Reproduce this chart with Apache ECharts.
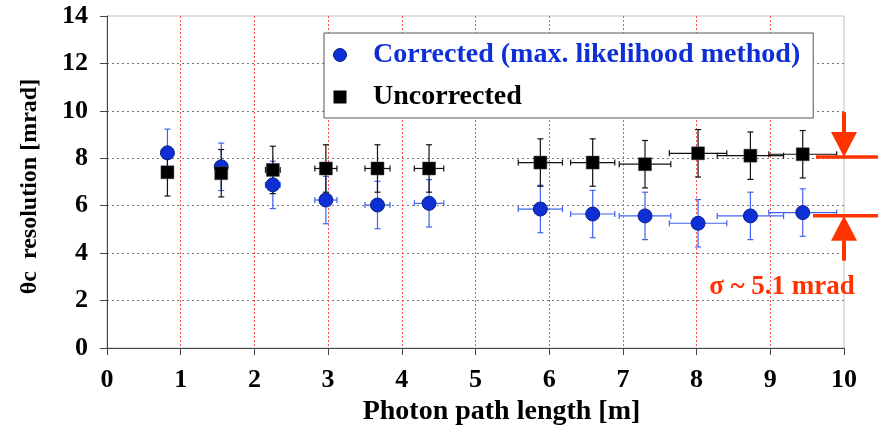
<!DOCTYPE html>
<html><head><meta charset="utf-8">
<script src="https://cdn.jsdelivr.net/npm/echarts@6/dist/echarts.min.js"></script>
<style>html,body{margin:0;padding:0;background:#fff}#c{width:878px;height:428px}</style>
</head><body><div id="c"></div>
<script>
const pathLength = [0.82, 1.55, 2.25, 2.97, 3.67, 4.37, 5.88, 6.59, 7.30, 8.02, 8.73, 9.44];
const pathErr = [0.05, 0.05, 0.10, 0.15, 0.17, 0.20, 0.30, 0.30, 0.35, 0.39, 0.45, 0.46];
const corrected = [8.23, 7.64, 6.88, 6.24, 6.03, 6.10, 5.86, 5.65, 5.57, 5.26, 5.57, 5.71];
const correctedErr = [1.0, 1.0, 1.0, 1.0, 1.0, 1.0, 1.0, 1.0, 1.0, 1.0, 1.0, 1.0];
const uncorrected = [7.41, 7.37, 7.51, 7.57, 7.57, 7.57, 7.82, 7.82, 7.75, 8.21, 8.11, 8.17];
const uncorrectedErr = [1.0, 1.0, 1.0, 1.0, 1.0, 1.0, 1.0, 1.0, 1.0, 1.0, 1.0, 1.0];
const sigmaLevels = [8.05, 5.58];
const sigmaText = 'σ ~ 5.1 mrad';
const nameCorrected = 'Corrected (max. likelihood method)';
const nameUncorrected = 'Uncorrected';

const FONT = '"Liberation Serif", "DejaVu Serif", serif';
const BLUE = '#0f2fd6';
const BLUE_BAR = '#3f63ee';
const RED = '#ff3300';

function errData(ys, yerr) {
  return pathLength.map((x, i) => [x, ys[i], pathErr[i], yerr[i]]);
}
function errRender(color) {
  return function (params, api) {
    const x = api.value(0), y = api.value(1), xe = api.value(2), ye = api.value(3);
    const c = api.coord([x, y]);
    const top = api.coord([x, y + ye]), bot = api.coord([x, y - ye]);
    const l = api.coord([x - xe, y]), r = api.coord([x + xe, y]);
    const cap = 3;
    const st = { stroke: color, lineWidth: 1.2 };
    const ch = [
      { type: 'line', shape: { x1: c[0], y1: top[1], x2: c[0], y2: bot[1] }, style: st },
      { type: 'line', shape: { x1: c[0] - cap, y1: top[1], x2: c[0] + cap, y2: top[1] }, style: st },
      { type: 'line', shape: { x1: c[0] - cap, y1: bot[1], x2: c[0] + cap, y2: bot[1] }, style: st }
    ];
    if (xe > 0) {
      ch.push({ type: 'line', shape: { x1: l[0], y1: c[1], x2: r[0], y2: c[1] }, style: st });
      ch.push({ type: 'line', shape: { x1: l[0], y1: c[1] - cap, x2: l[0], y2: c[1] + cap }, style: st });
      ch.push({ type: 'line', shape: { x1: r[0], y1: c[1] - cap, x2: r[0], y2: c[1] + cap }, style: st });
    }
    return { type: 'group', children: ch };
  };
}

const chart = echarts.init(document.getElementById('c'), null, { renderer: 'canvas' });
const option = {
  animation: false,
  grid: { left: 107, right: 34, top: 16, bottom: 80, containLabel: false, outerBoundsMode: 'none',
    show: true, borderColor: '#bdbdbd', borderWidth: 1 },
  legend: {
    orient: 'vertical', left: 324, top: 33,
    backgroundColor: '#fff', borderColor: '#555', borderWidth: 1,
    padding: [8, 13, 7, 9], itemGap: 14, itemWidth: 30, itemHeight: 13,
    symbolKeepAspect: true,
    textStyle: { fontFamily: FONT, fontWeight: 'bold', fontSize: 28, color: '#000', padding: [0, 0, 0, 13] },
    data: [
      { name: nameCorrected, icon: 'circle', itemStyle: { color: BLUE, borderColor: '#0a1f80', borderWidth: 1 }, textStyle: { color: BLUE } },
      { name: nameUncorrected, icon: 'path://M0,0L10,0L10,10L0,10Z', itemStyle: { color: '#000', borderWidth: 0 }, textStyle: { color: '#000' } }
    ]
  },
  xAxis: {
    type: 'value', min: 0, max: 10, interval: 1,
    name: 'Photon path length [m]', nameLocation: 'middle', nameGap: 48,
    nameTextStyle: { fontFamily: FONT, fontWeight: 'bold', fontSize: 28, color: '#000', padding: [0, 0, 0, 52] },
    axisLine: { lineStyle: { color: '#444', width: 1 } },
    axisTick: { show: true, length: 7, lineStyle: { color: '#444' } },
    axisLabel: { fontFamily: FONT, fontWeight: 'bold', fontSize: 26, color: '#000', margin: 19 },
    splitLine: { show: true, showMinLine: false, showMaxLine: false, lineStyle: { color: '#ff5050', type: [2, 2], width: 1 } }
  },
  yAxis: {
    type: 'value', min: 0, max: 14, interval: 2,
    name: 'θc  resolution [mrad]', nameLocation: 'middle', nameGap: 65, nameRotate: 90,
    nameTextStyle: { fontFamily: FONT, fontWeight: 'bold', fontSize: 24, color: '#000', padding: [0, 9, 0, 0] },
    axisLine: { show: true, lineStyle: { color: '#444', width: 1 } },
    axisTick: { show: true, length: 7, lineStyle: { color: '#444' } },
    axisLabel: { fontFamily: FONT, fontWeight: 'bold', fontSize: 26, color: '#000', margin: 19 },
    splitLine: { show: true, showMinLine: false, showMaxLine: false, lineStyle: { color: '#777', type: [2, 3], width: 1 } }
  },
  series: [
    { type: 'custom', name: 'errC', renderItem: errRender(BLUE_BAR), data: errData(corrected, correctedErr), z: 2, silent: true },
    { type: 'custom', name: 'errU', renderItem: errRender('#111'), data: errData(uncorrected, uncorrectedErr), z: 2, silent: true },
    { type: 'scatter', name: nameCorrected, symbol: 'circle', symbolSize: 14, z: 3,
      itemStyle: { color: BLUE, borderColor: '#0a1f80', borderWidth: 1, opacity: 1 },
      data: pathLength.map((x, i) => [x, corrected[i]]) },
    { type: 'scatter', name: nameUncorrected, symbol: 'rect', symbolSize: 13, z: 4,
      itemStyle: { color: '#000', borderColor: '#444', borderWidth: 0.5, opacity: 1 },
      data: pathLength.map((x, i) => [x, uncorrected[i]]) }
  ]
};
chart.setOption(option);

// sigma annotation
const yTop = chart.convertToPixel({ gridIndex: 0 }, [10, sigmaLevels[0]]);
const yBot = chart.convertToPixel({ gridIndex: 0 }, [10, sigmaLevels[1]]);
const xL = chart.convertToPixel({ gridIndex: 0 }, [9.62, 0])[0];
const ax = yTop[0];
const tri = 13, triH = 25, stem = 20;
chart.setOption({
  graphic: [
    { type: 'line', shape: { x1: xL, y1: yTop[1], x2: 878, y2: yTop[1] }, style: { stroke: RED, lineWidth: 3.5 }, z: 10 },
    { type: 'line', shape: { x1: xL - 3, y1: yBot[1], x2: 878, y2: yBot[1] }, style: { stroke: RED, lineWidth: 3.5 }, z: 10 },
    { type: 'line', shape: { x1: ax, y1: yTop[1] - triH - stem, x2: ax, y2: yTop[1] - triH }, style: { stroke: RED, lineWidth: 4 }, z: 10 },
    { type: 'polygon', shape: { points: [[ax - tri, yTop[1] - triH], [ax + tri, yTop[1] - triH], [ax, yTop[1]]] }, style: { fill: RED }, z: 10 },
    { type: 'polygon', shape: { points: [[ax - tri, yBot[1] + triH], [ax + tri, yBot[1] + triH], [ax, yBot[1]]] }, style: { fill: RED }, z: 10 },
    { type: 'line', shape: { x1: ax, y1: yBot[1] + triH, x2: ax, y2: yBot[1] + triH + stem }, style: { stroke: RED, lineWidth: 4 }, z: 10 },
    { type: 'text', x: 782, y: 287, style: { text: sigmaText, fill: RED, font: 'bold 27px ' + FONT, textAlign: 'center', textVerticalAlign: 'middle' }, z: 10 }
  ]
});
</script></body></html>
